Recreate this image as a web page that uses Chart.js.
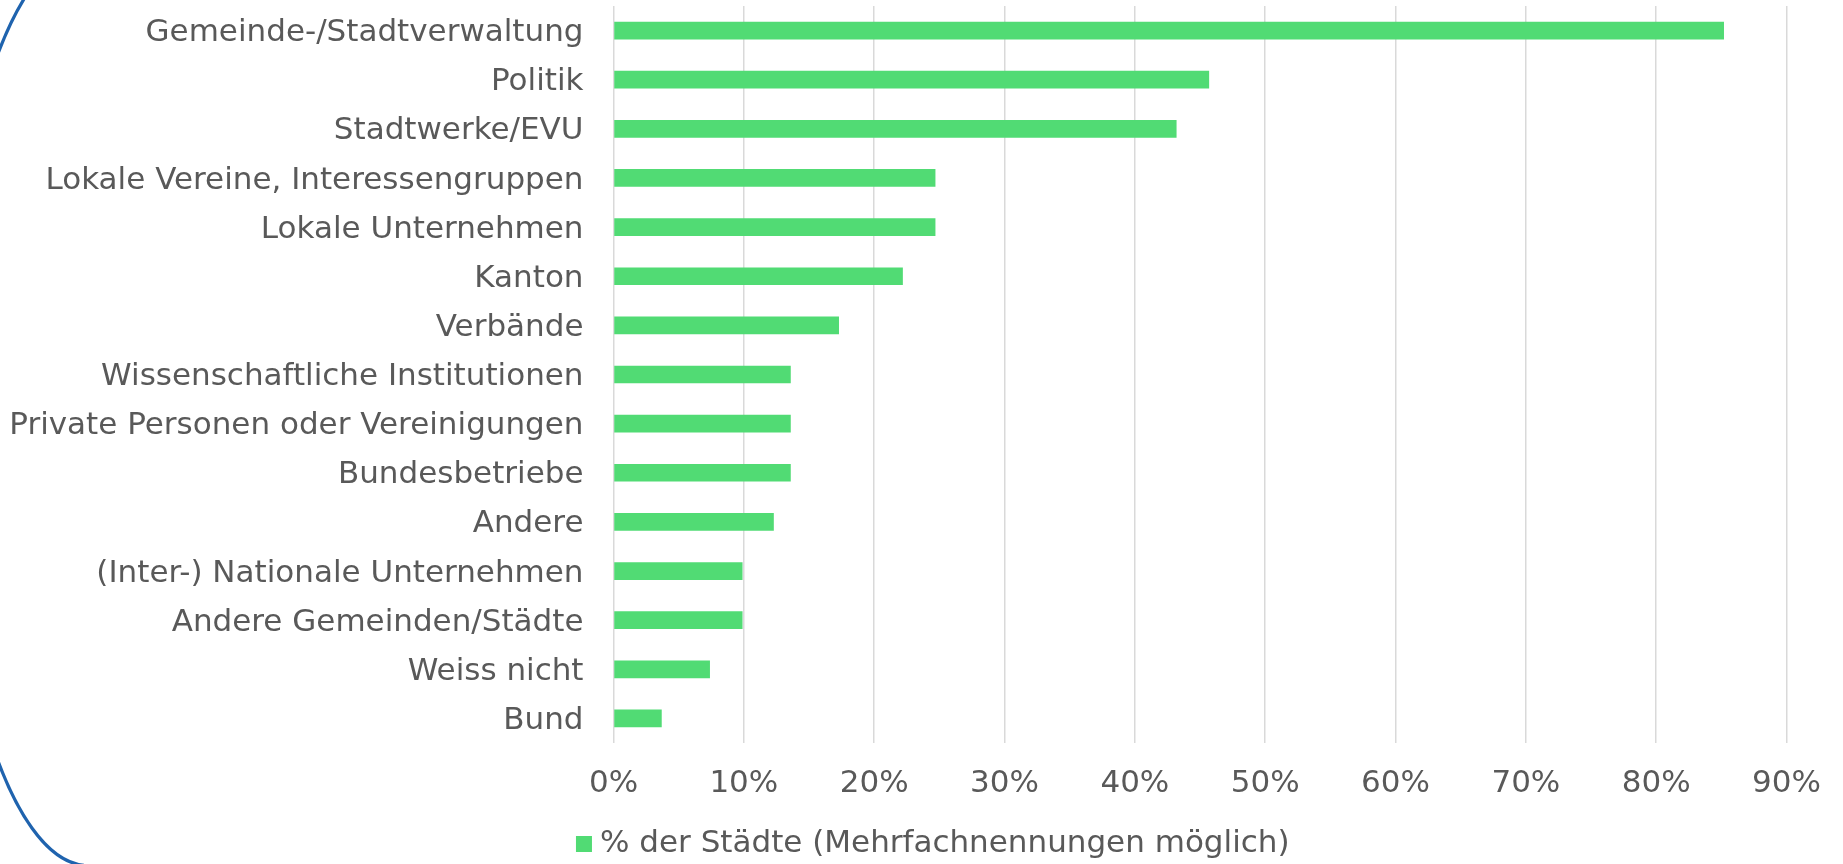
<!DOCTYPE html>
<html>
<head>
<meta charset="utf-8">
<script src="https://cdn.jsdelivr.net/npm/chart.js@4/dist/chart.umd.min.js"></script>
<style>
  html, body { margin: 0; padding: 0; background: #ffffff; }
  #wrap { position: relative; width: 1843px; height: 864px; }
</style>
</head>
<body>
<div id="wrap"><canvas id="c" width="1843" height="864"></canvas></div>
<script>
const categories = [
  "Gemeinde-/Stadtverwaltung",
  "Politik",
  "Stadtwerke/EVU",
  "Lokale Vereine, Interessengruppen",
  "Lokale Unternehmen",
  "Kanton",
  "Verbände",
  "Wissenschaftliche Institutionen",
  "Private Personen oder Vereinigungen",
  "Bundesbetriebe",
  "Andere",
  "(Inter-) Nationale Unternehmen",
  "Andere Gemeinden/Städte",
  "Weiss nicht",
  "Bund"
];
const seriesName = "% der Städte (Mehrfachnennungen möglich)";
const values = [85.2, 45.7, 43.2, 24.7, 24.7, 22.2, 17.3, 13.6, 13.6, 13.6, 12.3, 9.9, 9.9, 7.4, 3.7];
const xTicks = [0, 10, 20, 30, 40, 50, 60, 70, 80, 90];

const FONT = "'DejaVu Sans', sans-serif";
const TEXT = "#595959";
const PAD = { left: 0, right: 36, top: 6, bottom: -5.5 };
const PLOT_LEFT = 613.5;
const PLOT_BOTTOM = 743;
const LEGEND_SHIFT = 33;

const decoration = {
  id: 'decoration',
  afterLayout(chart) {
    if (chart.legend) {
      chart.legend.left += LEGEND_SHIFT;
      chart.legend.right += LEGEND_SHIFT;
    }
  },
  afterDraw(chart) {
    const ctx = chart.ctx;
    ctx.save();
    ctx.beginPath();
    ctx.ellipse(88, 407.5, 141.5, 458, 0, 1.6, 4.3, false);
    ctx.strokeStyle = '#1F63AE';
    ctx.lineWidth = 3.2;
    ctx.stroke();
    ctx.restore();
  }
};

new Chart(document.getElementById('c'), {
  type: 'bar',
  data: {
    labels: categories,
    datasets: [{
      label: seriesName,
      data: values,
      backgroundColor: '#51DB74',
      borderWidth: 0,
      barPercentage: 1,
      categoryPercentage: 0.36
    }]
  },
  options: {
    indexAxis: 'y',
    responsive: false,
    animation: false,
    devicePixelRatio: 1,
    layout: { padding: PAD },
    plugins: {
      legend: {
        position: 'bottom',
        labels: {
          color: TEXT,
          font: { family: FONT, size: 31 },
          usePointStyle: true,
          pointStyle: 'rect',
          boxWidth: 1,
          boxHeight: 16,
          padding: 2
        }
      },
      tooltip: { enabled: false }
    },
    scales: {
      x: {
        min: 0,
        max: 90,
        afterBuildTicks(scale) { scale.ticks = xTicks.map(v => ({ value: v })); },
        afterFit(scale) {
          const lh = scale.chart.legend ? scale.chart.legend.height : 43;
          scale.height = 864 - PLOT_BOTTOM - lh - PAD.bottom;
        },
        ticks: {
          color: TEXT,
          font: { family: FONT, size: 31 },
          padding: 22,
          maxRotation: 0,
          callback: v => v + '%'
        },
        grid: { color: '#D9D9D9', lineWidth: 1.5, drawTicks: false },
        border: { display: false }
      },
      y: {
        afterFit(scale) {
          scale.width = PLOT_LEFT - PAD.left;
          scale.paddingTop = 0;
          scale.paddingBottom = 0;
        },
        ticks: {
          color: TEXT,
          font: { family: FONT, size: 31 },
          padding: 30,
          labelOffset: 2.5
        },
        grid: { display: false, drawTicks: false },
        border: { display: false }
      }
    }
  },
  plugins: [decoration]
});
</script>
</body>
</html>
